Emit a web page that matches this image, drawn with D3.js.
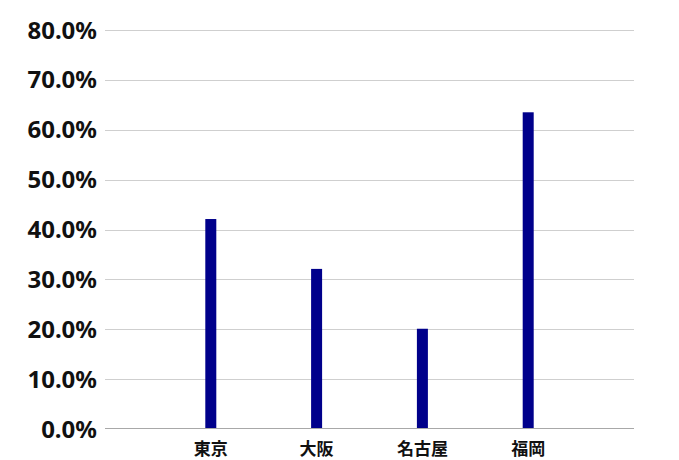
<!DOCTYPE html>
<html><head><meta charset="utf-8">
<script src="https://cdn.jsdelivr.net/npm/d3@7"></script>
<style>body{margin:0;background:#fff}</style>
</head><body>
<svg id="c" width="679" height="460"></svg>
<script>
const categories = ["東京", "大阪", "名古屋", "福岡"];
const values = [0.421, 0.321, 0.201, 0.635];
const yTicks = [0, 0.1, 0.2, 0.3, 0.4, 0.5, 0.6, 0.7, 0.8];

(function () {
const svg = d3.select("#c");
const mLeft = 105, mRight = 634, mTop = 30, mBottom = 429;
const x = d3.scalePoint().domain(["_a", ...categories, "_b"]).range([mLeft, mRight]);
const y = d3.scaleLinear().domain([0, 0.8]).range([mBottom, mTop]);

// gridlines
svg.append("g").selectAll("line").data(yTicks.filter(d => d > 0)).join("line")
  .attr("x1", mLeft).attr("x2", mRight)
  .attr("y1", d => Math.round(y(d)) + 0.5).attr("y2", d => Math.round(y(d)) + 0.5)
  .attr("stroke", "#cfcfcf").attr("stroke-width", 1);

// y labels
const fmt = d3.format(".1%");
svg.append("g").selectAll("text").data(yTicks).join("text")
  .attr("x", 97).attr("y", d => y(d) + 8.5)
  .attr("text-anchor", "end")
  .attr("font-family", "'Noto Sans', sans-serif").attr("font-weight", "bold")
  .attr("font-size", 24).attr("fill", "#111")
  .text(d => fmt(d));

// bars
const bw = 11;
svg.append("g").selectAll("rect").data(categories).join("rect")
  .attr("x", d => x(d) - bw / 2)
  .attr("y", (d, i) => y(values[i]))
  .attr("width", bw)
  .attr("height", (d, i) => mBottom - y(values[i]))
  .attr("fill", "#00008b");

// axis line
svg.append("line").attr("x1", mLeft).attr("x2", mRight)
  .attr("y1", mBottom - 0.5).attr("y2", mBottom - 0.5)
  .attr("stroke", "#a8a8a8").attr("stroke-width", 1);

// category labels
svg.append("g").selectAll("text").data(categories).join("text")
  .attr("x", d => x(d)).attr("y", 455)
  .attr("text-anchor", "middle")
  .attr("font-family", "'Noto Sans CJK JP', sans-serif").attr("font-weight", "bold")
  .attr("font-size", 17).attr("fill", "#111")
  .text(d => d);
})();
</script>
</body></html>
